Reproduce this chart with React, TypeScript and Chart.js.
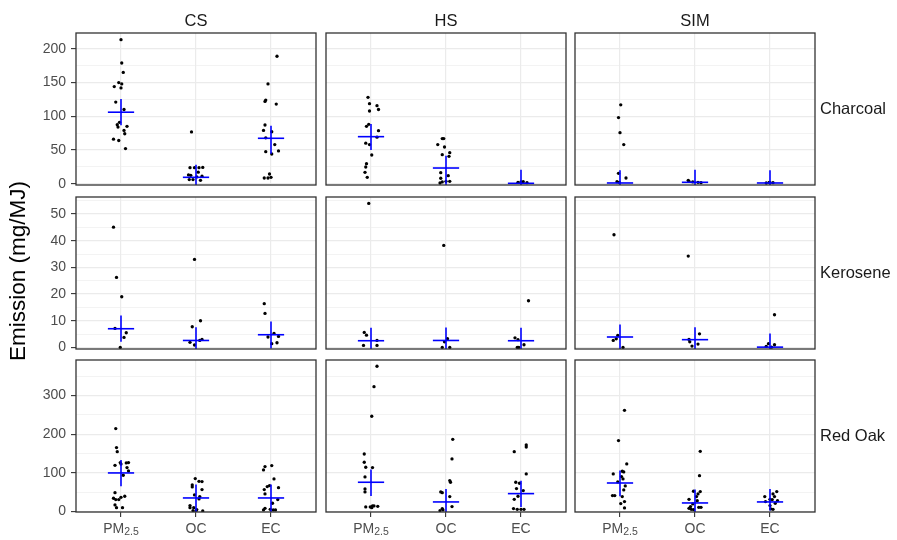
import React, { useEffect, useRef } from 'react';
import { Chart, registerables } from 'chart.js';
Chart.register(...registerables);

// ---------- labels ----------
const STOVES = ['CS', 'HS', 'SIM'];
const FUELS = ['Charcoal', 'Kerosene', 'Red Oak'];
const POLLUTANTS = ['PM2.5', 'OC', 'EC'];
const Y_TITLE = 'Emission (mg/MJ)';

// ---------- y axes (one per fuel row) ----------
const Y_MAJOR_CHARCOAL = [0, 50, 100, 150, 200];
const Y_MINOR_CHARCOAL = [25, 75, 125, 175];
const Y_RANGE_CHARCOAL = [-2, 223.5];
const Y_MAJOR_KEROSENE = [0, 10, 20, 30, 40, 50];
const Y_MINOR_KEROSENE = [5, 15, 25, 35, 45, 55];
const Y_RANGE_KEROSENE = [-0.6, 56.4];
const Y_MAJOR_REDOAK = [0, 100, 200, 300];
const Y_MINOR_REDOAK = [50, 150, 250, 350];
const Y_RANGE_REDOAK = [-1, 392];

// ---------- observations: [pollutant index, jitter, value] ----------
type Pt = [number, number, number];
const CHARCOAL_CS: Pt[] = [
  [0, 0, 213.6], [0, 0.01, 179], [0, 0.03, 165], [0, -0.03, 150], [0, 0.01, 148], [0, -0.09, 144], [0, 0, 142],
  [0, -0.07, 121], [0, 0.04, 110], [0, -0.02, 91], [0, -0.05, 87.5], [0, 0.08, 85], [0, -0.04, 84], [0, 0.04, 79],
  [0, 0.05, 74], [0, -0.1, 66], [0, -0.03, 64], [0, 0.06, 52],
  [1, -0.06, 76.7], [1, -0.08, 23.7], [1, -0.02, 23.7], [1, 0.04, 23.7], [1, 0.09, 24], [1, 0.03, 17], [1, -0.1, 12.9],
  [1, -0.07, 12.4], [1, 0.01, 10], [1, 0.08, 11], [1, -0.09, 6], [1, -0.04, 6], [1, 0.06, 5],
  [2, 0.08, 189], [2, -0.04, 148], [2, -0.07, 124], [2, -0.08, 122], [2, 0.07, 118], [2, -0.08, 87], [2, -0.1, 79],
  [2, 0.01, 77], [2, -0.07, 68], [2, 0.05, 58], [2, -0.07, 47.5], [2, 0.1, 48.5], [2, 0.01, 44], [2, -0.09, 8.4],
  [2, -0.02, 14.3], [2, -0.04, 8.4], [2, 0, 9.4],
];
const CHARCOAL_HS: Pt[] = [
  [0, -0.04, 128], [0, -0.02, 118.7], [0, 0.08, 115.7], [0, 0.1, 110], [0, -0.02, 107.8], [0, -0.06, 85], [0, -0.03, 88],
  [0, 0.1, 78.6], [0, 0.08, 69], [0, -0.07, 60], [0, -0.02, 58], [0, 0.01, 42.5], [0, -0.06, 29.7], [0, -0.07, 24.7],
  [0, -0.08, 16.8], [0, -0.05, 9.4],
  [1, -0.05, 66.8], [1, -0.03, 66.8], [1, -0.11, 57.9], [1, -0.02, 54.4], [1, -0.05, 43], [1, 0.05, 46], [1, 0.04, 40.5],
  [1, -0.07, 16.3], [1, 0.03, 11.9], [1, -0.07, 8], [1, -0.05, 2.5], [1, 0, 3.5], [1, 0.05, 3.5], [1, -0.08, 1],
  [2, -0.04, 2], [2, 0, 2.5], [2, 0.03, 3], [2, 0.08, 1.5],
];
const CHARCOAL_SIM: Pt[] = [
  [0, 0.01, 117], [0, -0.02, 98], [0, 0, 75.7], [0, 0.05, 57.9], [0, -0.02, 15.3], [0, 0.08, 8.4], [0, -0.04, 3], [0, -0.01, 2],
  [1, -0.09, 5], [1, -0.08, 3.5], [1, -0.03, 2.5], [1, 0.04, 2], [1, 0.08, 1.5],
  [2, -0.05, 1], [2, 0, 1.5], [2, 0.04, 1.5], [2, -0.01, 2],
];
const KEROSENE_CS: Pt[] = [
  [0, -0.1, 45.1], [0, -0.06, 26.25], [0, 0.01, 19], [0, -0.08, 7.1], [0, 0.07, 5.5], [0, 0.04, 3.75], [0, -0.01, 0],
  [1, -0.02, 33], [1, 0.06, 10], [1, -0.05, 7.75], [1, -0.08, 1.9], [1, 0.05, 2.6], [1, 0.08, 3], [1, -0.02, 0.9],
  [2, -0.09, 16.4], [2, -0.08, 12.75], [2, 0.04, 5.25], [2, -0.04, 3.9], [2, 0.1, 4.1], [2, 0.01, 1.4], [2, 0.08, 1.75],
];
const KEROSENE_HS: Pt[] = [
  [0, -0.03, 54], [0, -0.09, 5.6], [0, -0.06, 4.6], [0, 0.08, 2.6], [0, -0.1, 0.75], [0, 0.08, 0.75],
  [1, -0.03, 38.25], [1, 0.02, 3.25], [1, -0.02, 2.1], [1, -0.05, 0], [1, 0.05, 0],
  [2, 0.1, 17.5], [2, -0.08, 3.6], [2, -0.04, 2.9], [2, 0.04, 1], [2, -0.05, 0], [2, -0.03, 0],
];
const KEROSENE_SIM: Pt[] = [
  [0, -0.08, 42.25], [0, -0.03, 4.5], [0, -0.05, 3.25], [0, -0.09, 2.6], [0, 0.04, 0],
  [1, -0.09, 34.25], [1, 0.06, 5.1], [1, -0.08, 3], [1, -0.07, 2.1], [1, 0.04, 1.25], [1, -0.04, 0.5],
  [2, 0.06, 12.25], [2, -0.02, 1.4], [2, 0.06, 1], [2, -0.05, 0.4], [2, 0.02, 0.1],
];
const REDOAK_CS: Pt[] = [
  [0, -0.07, 214.7], [0, -0.06, 165.5], [0, -0.05, 155], [0, -0.01, 126.7], [0, -0.08, 119.8], [0, 0, 123], [0, 0.07, 126],
  [0, 0.1, 126.7], [0, 0.08, 113.8], [0, 0.1, 105], [0, 0.03, 94], [0, -0.08, 49], [0, 0.05, 39.7], [0, -0.1, 34.5],
  [0, -0.07, 31], [0, -0.03, 31], [0, 0, 37], [0, -0.08, 17.2], [0, -0.06, 10.3], [0, 0.02, 10.3],
  [1, -0.01, 85.3], [1, 0.04, 78.4], [1, 0.08, 77.6], [1, -0.05, 69], [1, -0.05, 63.8], [1, 0.08, 57], [1, 0.05, 38.8],
  [1, -0.02, 43.1], [1, 0.04, 32.8], [1, -0.08, 15.5], [1, -0.08, 10.3], [1, -0.03, 10.3], [1, 0.01, 5.2], [1, -0.04, 2.6],
  [1, 0.09, 1.7], [1, 0, 1.7],
  [2, 0.01, 119], [2, -0.08, 116.4], [2, -0.1, 107.8], [2, 0.04, 84.5], [2, -0.02, 67.2], [2, 0.1, 62], [2, -0.05, 64.7],
  [2, -0.09, 57], [2, -0.08, 45.7], [2, 0.09, 31], [2, 0.02, 21.6], [2, -0.08, 8.6], [2, -0.1, 4.3], [2, 0.03, 4.3],
  [2, 0.06, 4.3], [2, -0.01, 6],
];
const REDOAK_HS: Pt[] = [
  [0, 0.08, 375.9], [0, 0.04, 323], [0, 0.01, 246.5], [0, -0.09, 149], [0, -0.09, 127.6], [0, -0.07, 114.7], [0, 0.02, 113.8],
  [0, -0.08, 89.7], [0, -0.08, 58.6], [0, -0.08, 50.9], [0, -0.07, 12], [0, -0.01, 12], [0, 0.02, 14.7], [0, 0.04, 14.7],
  [0, 0.09, 13.8], [0, 0.01, 10.3],
  [1, 0.09, 187], [1, 0.08, 136.2], [1, 0.05, 80.2], [1, 0.06, 75.9], [1, -0.07, 50.9], [1, -0.05, 49], [1, 0.05, 38.8],
  [1, 0.08, 13], [1, -0.05, 7.8], [1, -0.04, 4.3], [1, -0.08, 2.6],
  [2, 0.07, 172.4], [2, 0.07, 167], [2, -0.09, 155], [2, 0.07, 97.4], [2, -0.07, 75.9], [2, -0.02, 73.3], [2, -0.06, 59.5],
  [2, 0.03, 54.3], [2, -0.04, 39.7], [2, -0.09, 31.9], [2, -0.1, 7.8], [2, -0.05, 6], [2, 0, 6], [2, 0.04, 6],
];
const REDOAK_SIM: Pt[] = [
  [0, 0.06, 262], [0, -0.02, 183.6], [0, 0.09, 123.3], [0, -0.09, 97.4], [0, 0.03, 104.3], [0, 0.05, 102.6], [0, 0.02, 90.5],
  [0, 0.04, 84.5], [0, -0.03, 76.7], [0, 0.07, 66.4], [0, 0.05, 56], [0, -0.1, 41.4], [0, -0.07, 41.4], [0, 0.03, 38.8],
  [0, 0.06, 25.9], [0, 0.01, 20.7], [0, 0.06, 9.5],
  [1, 0.07, 156], [1, 0.06, 93], [1, 0.07, 51.7], [1, -0.02, 52.6], [1, 0.04, 45.7], [1, 0.02, 38.8], [1, -0.08, 31.9],
  [1, 0.03, 28.4], [1, -0.03, 19.8], [1, -0.06, 13], [1, -0.08, 8.6], [1, 0.05, 11.2], [1, 0.08, 11.2], [1, -0.05, 6], [1, -0.02, 5.2],
  [2, 0.09, 51.7], [2, 0.04, 45.7], [2, -0.07, 38.8], [2, 0.06, 38.8], [2, 0, 31.9], [2, 0.03, 31], [2, -0.06, 25.9],
  [2, 0.1, 28.4], [2, 0.07, 21.6], [2, 0, 15.5], [2, 0.01, 6.9], [2, 0.04, 6],
];

// ---------- summaries per fuel: rows = stove (CS, HS, SIM), cols = pollutant (PM2.5, OC, EC) ----------
const CENTER_CHARCOAL = [[106, 9.4, 67.3], [69.7, 23.2, 0.5], [1, 2, 1]];
const LOW_CHARCOAL = [[86.5, -3, 44.5], [50, -3, -3], [-3, -3, -3]];
const HIGH_CHARCOAL = [[125.6, 28, 86], [88.5, 41.5, 20.8], [19.8, 20.8, 19.8]];
const CENTER_KEROSENE = [[7, 2.6, 4.75], [2.5, 2.6, 2.5], [3.9, 2.9, 0.1]];
const LOW_KEROSENE = [[2.1, -1, -0.4], [-1, -1, -1], [-1, -1, -1]];
const HIGH_KEROSENE = [[12, 7.6, 9.75], [7.4, 7.5, 7.4], [8.6, 7.6, 5.25]];
const CENTER_REDOAK = [[100, 35.3, 35.3], [75.9, 25, 46.5], [74, 22.4, 25]];
const LOW_REDOAK = [[65.5, -3, -3], [40.5, -3, 12], [39.7, -3, 2.6]];
const HIGH_REDOAK = [[133.6, 69.8, 69.8], [108.6, 58.6, 80], [106, 56.9, 58.6]];

const POINTS = [
  [CHARCOAL_CS, CHARCOAL_HS, CHARCOAL_SIM],
  [KEROSENE_CS, KEROSENE_HS, KEROSENE_SIM],
  [REDOAK_CS, REDOAK_HS, REDOAK_SIM],
];
const CENTERS = [CENTER_CHARCOAL, CENTER_KEROSENE, CENTER_REDOAK];
const LOWS = [LOW_CHARCOAL, LOW_KEROSENE, LOW_REDOAK];
const HIGHS = [HIGH_CHARCOAL, HIGH_KEROSENE, HIGH_REDOAK];
const Y_MAJOR = [Y_MAJOR_CHARCOAL, Y_MAJOR_KEROSENE, Y_MAJOR_REDOAK];
const Y_MINOR = [Y_MINOR_CHARCOAL, Y_MINOR_KEROSENE, Y_MINOR_REDOAK];
const Y_RANGE = [Y_RANGE_CHARCOAL, Y_RANGE_KEROSENE, Y_RANGE_REDOAK];

// ---------- layout / style ----------
const FONT = '"Liberation Sans", Arial, Helvetica, sans-serif';
const COL_X = [76, 326, 575];
const ROW_Y = [33, 197, 360];
const PW = 240;
const PH = 152;
const PL = 60, PT = 12, PR = 6, PB = 30;
const CROSS_HALF = 0.175;
const GRID = '#ebebeb';
const DARK = '#333333';
const TICK_TEXT = '#4d4d4d';

const decorPlugin = {
  id: 'panelDecor',
  afterDraw(chart: any, _args: any, opts: any) {
    const { ctx, chartArea: a } = chart;
    ctx.save();
    ctx.strokeStyle = DARK;
    ctx.lineWidth = 1.3;
    ctx.strokeRect(a.left, a.top, a.right - a.left, a.bottom - a.top);
    if (opts.showX) {
      const xs = chart.scales.x;
      ctx.fillStyle = TICK_TEXT;
      ctx.textAlign = 'left';
      ctx.textBaseline = 'alphabetic';
      const baseY = a.bottom + 21;
      POLLUTANTS.forEach((lab, i) => {
        const px = xs.getPixelForValue(i + 1);
        const m = lab.match(/^([A-Za-z]+)([\d.]+)$/);
        const main = m ? m[1] : lab;
        const sub = m ? m[2] : '';
        ctx.font = `14px ${FONT}`;
        const wm = ctx.measureText(main).width;
        ctx.font = `10.5px ${FONT}`;
        const ws = sub ? ctx.measureText(sub).width : 0;
        const x0 = px - (wm + ws) / 2;
        ctx.font = `14px ${FONT}`;
        ctx.fillText(main, x0, baseY);
        if (sub) {
          ctx.font = `10.5px ${FONT}`;
          ctx.fillText(sub, x0 + wm, baseY + 2);
        }
      });
    }
    ctx.restore();
  },
};

function Panel({ r, c }: { r: number; c: number }) {
  const ref = useRef<HTMLCanvasElement>(null);
  const isLeft = c === 0;
  const isBottom = r === 2;
  const w = PL + PW + PR;
  const h = PT + PH + PB;
  useEffect(() => {
    const majors = Y_MAJOR[r];
    const minors = Y_MINOR[r];
    const allTicks = [...majors, ...minors].sort((a, b) => a - b);
    const pts = POINTS[r][c];
    const crossSets: any[] = [];
    for (let i = 0; i < 3; i++) {
      const cx = i + 1;
      const m = CENTERS[r][c][i];
      crossSets.push({
        data: [{ x: cx - CROSS_HALF, y: m }, { x: cx + CROSS_HALF, y: m }],
        showLine: true, borderColor: '#0000ff', borderWidth: 1.6, pointRadius: 0,
      });
      crossSets.push({
        data: [{ x: cx, y: LOWS[r][c][i] }, { x: cx, y: HIGHS[r][c][i] }],
        showLine: true, borderColor: '#0000ff', borderWidth: 1.6, pointRadius: 0,
      });
    }
    const chart = new Chart(ref.current as HTMLCanvasElement, {
      type: 'scatter',
      data: {
        datasets: [
          ...crossSets,
          {
            data: pts.map((p) => ({ x: p[0] + 1 + p[1], y: p[2] })),
            pointRadius: 1.65,
            pointBackgroundColor: '#000000',
            pointBorderWidth: 0,
            showLine: false,
          },
        ],
      },
      options: {
        animation: false,
        responsive: false,
        events: [],
        layout: { padding: { left: 0, top: PT, right: PR, bottom: 0 } },
        plugins: { legend: { display: false }, tooltip: { enabled: false }, panelDecor: { showX: isBottom } } as any,
        scales: {
          x: {
            type: 'linear',
            min: 0.4,
            max: 3.6,
            afterBuildTicks: (s: any) => { s.ticks = [1, 2, 3].map((v) => ({ value: v })); },
            afterFit: (s: any) => { s.height = PB; s.paddingLeft = 0; s.paddingRight = 0; },
            ticks: { display: false },
            grid: { color: GRID, lineWidth: 1.2, drawTicks: isBottom, tickLength: 5, tickColor: DARK, tickWidth: 1.1 } as any,
            border: { display: false },
          },
          y: {
            type: 'linear',
            min: Y_RANGE[r][0],
            max: Y_RANGE[r][1],
            afterBuildTicks: (s: any) => { s.ticks = allTicks.map((v) => ({ value: v })); },
            afterFit: (s: any) => { s.width = PL; s.paddingTop = 0; s.paddingBottom = 0; },
            ticks: {
              display: isLeft,
              autoSkip: false,
              padding: 5,
              color: TICK_TEXT,
              font: { family: FONT, size: 14 },
              callback: (v: any) => (majors.includes(Number(v)) ? String(v) : ''),
            },
            grid: {
              color: GRID,
              lineWidth: (ctx: any) => (ctx.tick && majors.includes(ctx.tick.value) ? 1.2 : 0.6),
              drawTicks: isLeft,
              tickLength: 5,
              tickWidth: 1.1,
              tickColor: (ctx: any) => (ctx.tick && majors.includes(ctx.tick.value) ? DARK : 'rgba(0,0,0,0)'),
            } as any,
            border: { display: false },
          },
        },
      } as any,
      plugins: [decorPlugin],
    });
    return () => chart.destroy();
  }, [r, c]);
  return (
    <canvas
      ref={ref}
      width={w}
      height={h}
      style={{ position: 'absolute', left: COL_X[c] - PL, top: ROW_Y[r] - PT, width: w, height: h }}
    />
  );
}

export default function App() {
  const panels: JSX.Element[] = [];
  for (let r = 0; r < 3; r++) for (let c = 0; c < 3; c++) panels.push(<Panel key={`${r}-${c}`} r={r} c={c} />);
  return (
    <div style={{ position: 'absolute', left: 0, top: 0, width: 897, height: 540, background: '#ffffff', overflow: 'hidden', fontFamily: FONT }}>
      {panels}
      {STOVES.map((s, c) => (
        <div key={s} style={{ position: 'absolute', left: COL_X[c], top: 11, width: PW, textAlign: 'center', fontSize: 16.5, lineHeight: '18px', color: '#1a1a1a' }}>
          {s}
        </div>
      ))}
      {FUELS.map((f, r) => (
        <div key={f} style={{ position: 'absolute', left: 820, top: ROW_Y[r] + PH / 2 - 10, fontSize: 16.5, lineHeight: '18px', color: '#1a1a1a', whiteSpace: 'nowrap' }}>
          {f}
        </div>
      ))}
      <div style={{ position: 'absolute', left: 18, top: 271, transform: 'translate(-50%, -50%) rotate(-90deg)', fontSize: 22.5, lineHeight: '26px', color: '#000000', whiteSpace: 'nowrap' }}>
        {Y_TITLE}
      </div>
    </div>
  );
}
